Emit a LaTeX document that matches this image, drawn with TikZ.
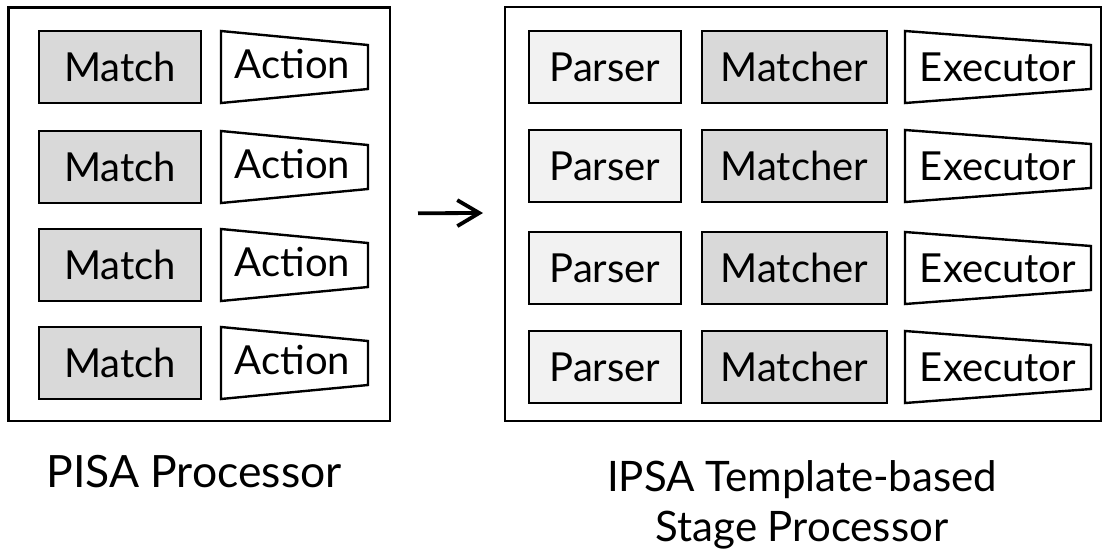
\documentclass[tikz,border=0pt]{standalone}
\usepackage{fontspec}
\setmainfont{Lato}
\usetikzlibrary{arrows.meta}
\definecolor{mgray}{HTML}{D9D9D9}
\definecolor{pgray}{HTML}{F2F2F2}
\begin{document}
\begin{tikzpicture}[x=1pt,y=-1pt,
  outerbox/.style={draw, line width=2.6pt, inner sep=0pt, outer sep=0pt},
  cell/.style={draw, line width=2.4pt, minimum height=72pt, inner sep=0pt, outer sep=0pt,
    font=\fontsize{40}{48}\selectfont},
  matchbox/.style={cell, fill=mgray, minimum width=162pt},
  parserbox/.style={cell, fill=pgray, minimum width=152pt},
  matcherbox/.style={cell, fill=mgray, minimum width=185pt},
  trapnode/.style={minimum height=72pt, inner sep=0pt, outer sep=0pt,
    font=\fontsize{40}{48}\selectfont},
  trapline/.style={draw, line width=2.4pt, line join=miter, fill=white},
  caption/.style={font=\fontsize{42}{49.5}\selectfont, align=center, inner sep=0pt},
  arr/.style={line width=3.8pt, -{Straight Barb[length=22pt,width=26pt]}}
]
\useasboundingbox (0,0) rectangle (1104,555);
\fill[white] (0,0) rectangle (1104,555);

% outer boxes
\node[outerbox, minimum width=381.5pt, minimum height=413.5pt] (pisa) at (199.25,214.25) {};
\node[outerbox, minimum width=596pt, minimum height=414pt] (ipsa) at (803,214) {};

% left rows
\foreach \i/\y in {1/67,2/167,3/265,4/363}{
  \node[matchbox] (m\i) at (120,\y) {Match};
  \node[trapnode, minimum width=147pt] (a\i) at (294.5,\y) {};
  \draw[trapline] (a\i.north west) -- ([yshift=-14pt]a\i.north east)
     -- ([yshift=14pt]a\i.south east) -- (a\i.south west) -- cycle;
  \node[trapnode, minimum width=147pt] at ([xshift=-2pt,yshift=3pt]a\i.center) {Action};
}

% right rows
\foreach \i/\y in {1/67,2/166,3/268,4/367}{
  \node[parserbox] (p\i) at (605,\y) {Parser};
  \node[matcherbox] (t\i) at (794.5,\y) {Matcher};
  \node[trapnode, minimum width=186pt] (e\i) at (998,\y) {};
  \draw[trapline] (e\i.north west) -- ([yshift=-14pt]e\i.north east)
     -- ([yshift=14pt]e\i.south east) -- (e\i.south west) -- cycle;
  \node[trapnode, minimum width=186pt] at (e\i.center) {Executor};
}

% arrow
\draw[arr] ([xshift=28pt,yshift=1pt]pisa.east) -- ([xshift=-22pt,yshift=1pt]ipsa.west);

% captions
\node[caption, anchor=base, font=\fontsize{44.5}{50}\selectfont] (lcap) at (194,487) {PISA Processor};
\node[caption] (rcap) at (802,505) {IPSA Template-based\\Stage Processor};
\end{tikzpicture}
\end{document}
